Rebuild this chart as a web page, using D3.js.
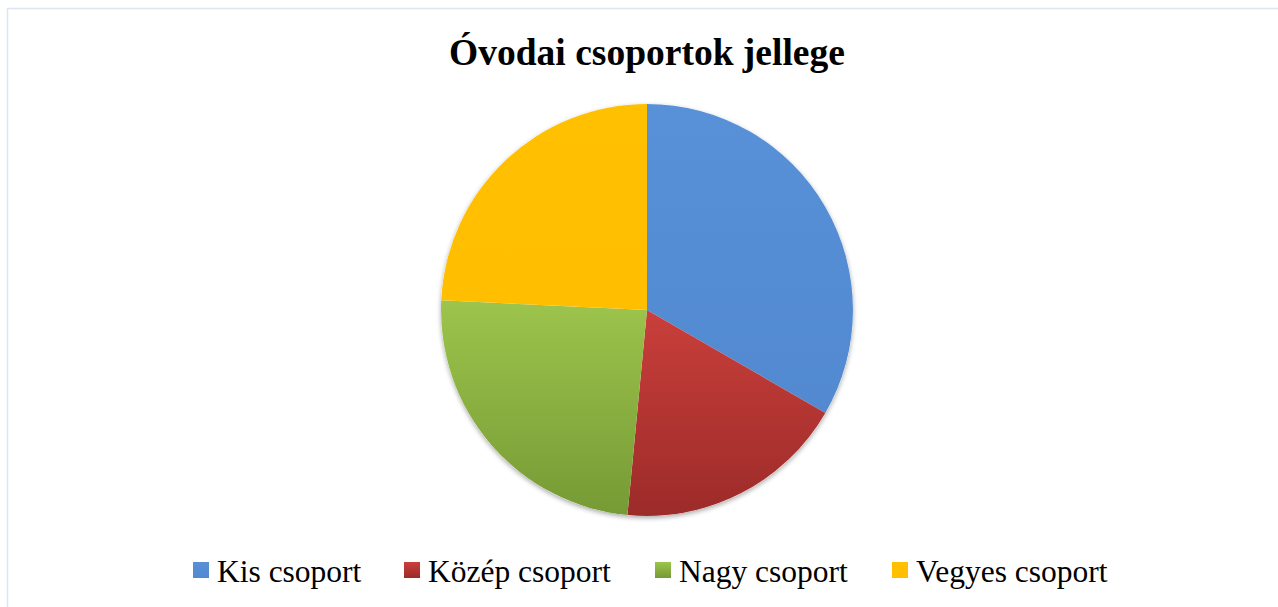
<!DOCTYPE html>
<html>
<head>
<meta charset="utf-8">
<script src="https://cdn.jsdelivr.net/npm/d3@7"></script>
<style>
  body { margin: 0; background: #fff; }
  svg { display: block; }
</style>
</head>
<body>
<svg width="1278" height="607"></svg>
<script>
// data
var categories = ["Kis csoport", "Közép csoport", "Nagy csoport", "Vegyes csoport"];
var values = [11, 6, 8, 8];
var colorsTop = ["#5891d8", "#c93f3b", "#9dc44c", "#ffc000"];
var colorsBottom = ["#5289d0", "#9c2b29", "#769a35", "#ffbf00"];

var svg = d3.select("svg"),
    width = +svg.attr("width"),
    height = +svg.attr("height");

var font = "'Liberation Serif', 'Times New Roman', serif";

// frame
svg.append("rect")
    .attr("x", 7.5).attr("y", 8.5)
    .attr("width", width + 10).attr("height", height + 10)
    .attr("fill", "none")
    .attr("stroke", "#dce6f2")
    .attr("stroke-width", 1.5);

svg.append("text")
    .attr("x", 647).attr("y", 65)
    .attr("text-anchor", "middle")
    .attr("font-family", font)
    .attr("font-weight", "bold")
    .attr("font-size", 37.5)
    .text("Óvodai csoportok jellege");

var defs = svg.append("defs");
categories.forEach(function (c, i) {
    var grad = defs.append("linearGradient")
        .attr("id", "g" + i)
        .attr("x1", 0).attr("y1", 0).attr("x2", 0).attr("y2", 1);
    grad.append("stop").attr("offset", "0%").attr("stop-color", colorsTop[i]);
    grad.append("stop").attr("offset", "100%").attr("stop-color", colorsBottom[i]);
});

var shadow = defs.append("filter").attr("id", "shadow")
    .attr("x", "-10%").attr("y", "-10%").attr("width", "120%").attr("height", "120%");
shadow.append("feGaussianBlur").attr("in", "SourceAlpha").attr("stdDeviation", 2.5);
shadow.append("feOffset").attr("dx", 0).attr("dy", 2).attr("result", "b");
shadow.append("feComponentTransfer").append("feFuncA").attr("type", "linear").attr("slope", 0.35);
var merge = shadow.append("feMerge");
merge.append("feMergeNode");
merge.append("feMergeNode").attr("in", "SourceGraphic");

var radius = 206;
var pie = d3.pie().sort(null).value(function (d) { return d; });
var arc = d3.arc().innerRadius(0).outerRadius(radius);

var g = svg.append("g").attr("transform", "translate(647,310)");
g.append("circle").attr("r", radius).attr("fill", "#fff").attr("filter", "url(#shadow)");
g.selectAll("path")
    .data(pie(values))
    .enter().append("path")
    .attr("d", arc)
    .attr("fill", function (d, i) { return "url(#g" + i + ")"; });

// legend
var legendX = [193, 404, 655, 892];
var item = svg.append("g").selectAll("g")
    .data(categories)
    .enter().append("g")
    .attr("transform", function (d, i) { return "translate(" + legendX[i] + ",562)"; });

item.append("rect")
    .attr("width", 16).attr("height", 16)
    .attr("fill", function (d, i) { return "url(#g" + i + ")"; });

item.append("text")
    .attr("x", 24).attr("y", 20)
    .attr("font-family", font)
    .attr("font-size", 31.5)
    .attr("fill", "#000")
    .text(function (d) { return d; });
</script>
</body>
</html>
